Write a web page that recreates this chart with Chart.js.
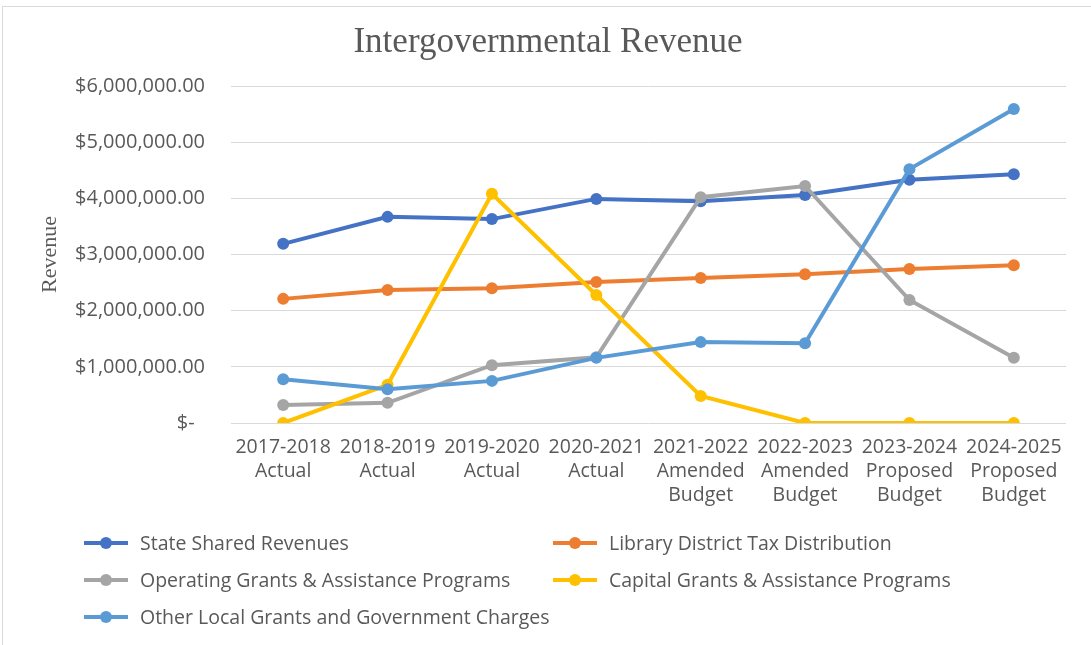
<!DOCTYPE html>
<html>
<head>
<meta charset="utf-8">
<script src="https://cdn.jsdelivr.net/npm/chart.js@4"></script>
<style>
  body { margin: 0; background: #fff; }
  #wrap { position: relative; width: 1091px; height: 645px; overflow: hidden; }
  #frame { position: absolute; left: 2px; top: 6px; width: 1100px; height: 700px; border: 1px solid #d9d9d9; }
  #grafica { position: absolute; left: 0; top: 0; }
  #leyenda { position: absolute; left: 84px; top: 524px; display: grid; grid-template-columns: 469px 480px; row-gap: 0; }
  .item { height: 37px; display: flex; align-items: center; font: 19.5px "Open Sans"; color: #595959; white-space: nowrap; }
  .marca { position: relative; width: 44px; height: 4px; margin-right: 12px; }
  .marca i { position: absolute; left: 16px; top: -4px; width: 12px; height: 12px; border-radius: 50%; }
</style>
</head>
<body>
<div id="wrap">
  <div id="frame"></div>
  <canvas id="grafica" width="1091" height="645"></canvas>
  <div id="leyenda"></div>
</div>
<script>
const etiquetas = [
  ["2017-2018", "Actual"], ["2018-2019", "Actual"], ["2019-2020", "Actual"], ["2020-2021", "Actual"],
  ["2021-2022", "Amended", "Budget"], ["2022-2023", "Amended", "Budget"],
  ["2023-2024", "Proposed", "Budget"], ["2024-2025", "Proposed", "Budget"]
];
const series = [
  "State Shared Revenues",
  "Library District Tax Distribution",
  "Operating Grants & Assistance Programs",
  "Capital Grants & Assistance Programs",
  "Other Local Grants and Government Charges"
];
const estatal = [3190000, 3670000, 3630000, 3990000, 3950000, 4060000, 4330000, 4430000];
const biblioteca = [2210000, 2370000, 2400000, 2510000, 2580000, 2650000, 2740000, 2810000];
const operativos = [320000, 360000, 1030000, 1170000, 4020000, 4220000, 2190000, 1160000];
const capital = [0, 680000, 4080000, 2280000, 480000, 0, 0, 0];
const otros = [780000, 600000, 750000, 1160000, 1440000, 1420000, 4520000, 5590000];
const colores = ["#4472C4", "#ED7D31", "#A5A5A5", "#FFC000", "#5B9BD5"];

const valores = [estatal, biblioteca, operativos, capital, otros];
const datasets = valores.map(function (v, i) {
  return {
    label: series[i],
    data: v,
    borderColor: colores[i],
    backgroundColor: colores[i],
    borderWidth: 4,
    pointRadius: 6,
    pointHoverRadius: 6,
    pointBorderWidth: 0,
    tension: 0,
    order: 10 - i // la ultima serie queda encima, como en Excel
  };
});

const gris = "#595959";
const chart = new Chart(document.getElementById("grafica"), {
  type: "line",
  data: { labels: etiquetas, datasets: datasets },
  options: {
    responsive: false,
    animation: false,
    layout: { padding: { top: 6, right: 25, left: 30, bottom: 0 } },
    plugins: {
      legend: { display: false },
      tooltip: { enabled: false },
      title: {
        display: true,
        text: "Intergovernmental Revenue",
        color: gris,
        font: { family: "Liberation Serif", size: 35, weight: "normal", lineHeight: 1.2 },
        padding: { top: 16, bottom: 22 }
      }
    },
    scales: {
      x: {
        offset: true,
        grid: { display: false, drawTicks: false },
        border: { display: false },
        ticks: {
          color: gris, font: { family: "Open Sans", size: 19.5, lineHeight: 1.24 },
          padding: 12, maxRotation: 0, autoSkip: false
        },
        afterFit: function (s) { s.height = 645 - 423; }
      },
      y: {
        min: 0, max: 6000000,
        grid: { color: "#d9d9d9", lineWidth: 1, drawTicks: false },
        border: { display: false },
        ticks: {
          stepSize: 1000000, color: gris, padding: 26,
          font: { family: "Open Sans", size: 20 },
          callback: function (v) {
            if (v === 0) return "$-  ";
            return "$" + v.toLocaleString("en-US", { minimumFractionDigits: 2, maximumFractionDigits: 2 });
          }
        },
        title: {
          display: true, text: "Revenue", color: gris,
          font: { family: "Liberation Serif", size: 22, weight: "normal", lineHeight: 1.2 },
          padding: { top: 7, bottom: 0 }
        },
        afterFit: function (s) { s.width = 201; }
      }
    }
  }
});

// Leyenda en dos columnas, hecha con los datasets
const $leyenda = document.getElementById("leyenda");
chart.data.datasets.forEach(function (ds) {
  const item = document.createElement("div");
  item.className = "item";
  item.innerHTML = '<span class="marca" style="background:' + ds.borderColor + '"><i style="background:' +
    ds.borderColor + '"></i></span>' + ds.label.replace(/&/g, "&amp;");
  $leyenda.appendChild(item);
});
</script>
</body>
</html>
